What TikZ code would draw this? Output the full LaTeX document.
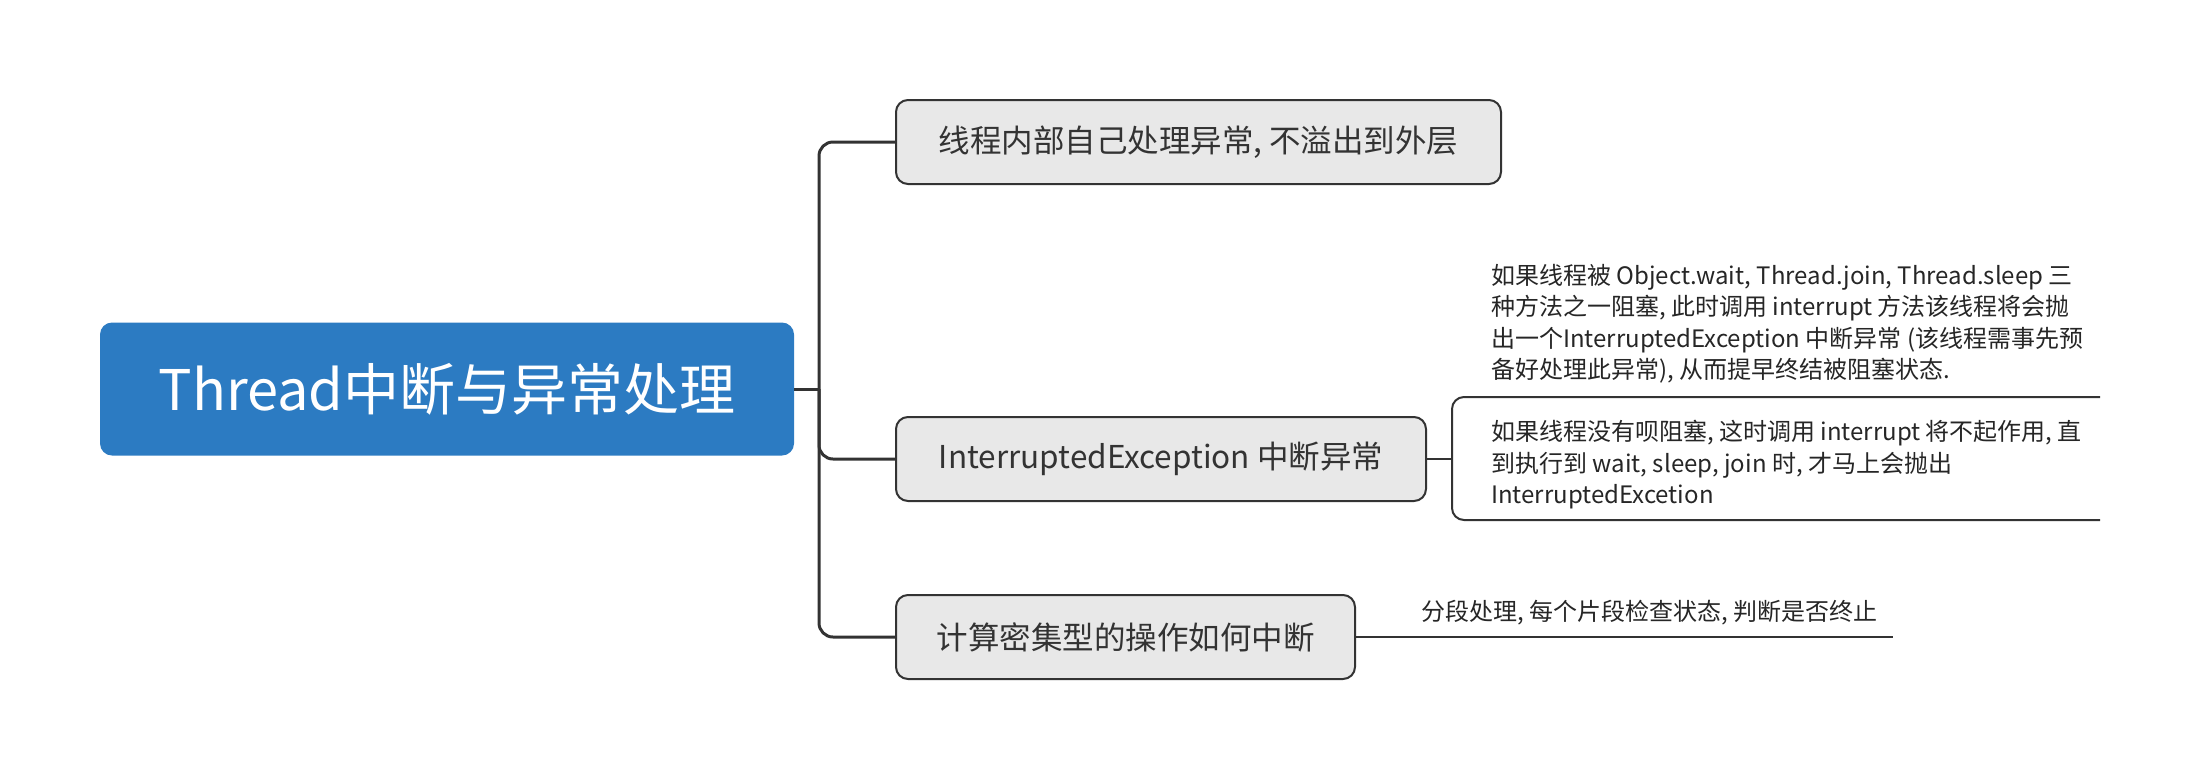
\documentclass[tikz,border=0pt]{standalone}
\usepackage{fontspec}
\setmainfont{Noto Sans CJK SC}
\usepackage{tikz}
\definecolor{rootblue}{HTML}{2C7BC2}
\definecolor{topicgray}{HTML}{E8E8E8}
\definecolor{linegray}{HTML}{333333}
\tikzstyle{central} = [rectangle, rounded corners=12pt,
minimum width=694pt,
minimum height=133pt,
text centered,
fill=rootblue, text=white,
font=\fontsize{56}{60}\selectfont]
\tikzstyle{topic} = [rectangle, rounded corners=12pt,
anchor=west,
minimum height=84pt,
text centered,
fill=topicgray, draw=linegray, line width=2pt, text=linegray,
font=\fontsize{31.5}{36}\selectfont]
\tikzstyle{remark} = [inner sep=0pt, align=left, text=black!85,
font=\fontsize{24}{31.5}\selectfont]
\tikzstyle{trunk} = [line width=3pt, draw=linegray, rounded corners=14pt]
\tikzstyle{twig} = [line width=2pt, draw=linegray, rounded corners=12pt]

\begin{document}
\begin{tikzpicture}[x=1pt, y=-1pt]
        \useasboundingbox (0,0) rectangle (2200,780);
        \node (thread) [central] at (447,389) {Thread中断与异常处理};
        \node (inner) [topic, minimum width=605pt] at (895,142) {线程内部自己处理异常, 不溢出到外层};
        \node (interrupt) [topic, minimum width=530pt] at (895,459) {InterruptedException 中断异常};
        \node (compute) [topic, minimum width=459pt] at (895,637) {计算密集型的操作如何中断};

        \coordinate (hub) at (819,389);
        \draw [trunk] (thread.east) -- (hub);
        \draw [trunk] (hub) |- (inner.west);
        \draw [trunk] (hub) |- (interrupt.west);
        \draw [trunk] (hub) |- (compute.west);

        % notes under InterruptedException
        \node (blocked) [remark, anchor=north west] at (1491,264) {如果线程被 Object.wait, Thread.join, Thread.sleep 三\\种方法之一阻塞, 此时调用 interrupt 方法该线程将会抛\\出一个InterruptedException 中断异常 (该线程需事先预\\备好处理此异常), 从而提早终结被阻塞状态.};
        \node (notblocked) [remark, anchor=north west] at (1491,420) {如果线程没有呗阻塞, 这时调用 interrupt 将不起作用, 直\\到执行到 wait, sleep, join 时, 才马上会抛出\\InterruptedExcetion};
        \coordinate (fork) at (1452,459);
        \coordinate (blockedend) at (2100,397);
        \coordinate (notblockedend) at (2100,520);
        \draw [twig] (interrupt.east) -- (fork);
        \draw [twig] (blockedend) -| (fork) |- (notblockedend);

        % note under compute
        \node (segment) [remark, anchor=west] at (1421,613) {分段处理, 每个片段检查状态, 判断是否终止};
        \coordinate (segend) at (1893,637);
        \draw [twig] (compute.east) -- (segend);
    \end{tikzpicture}
\end{document}
